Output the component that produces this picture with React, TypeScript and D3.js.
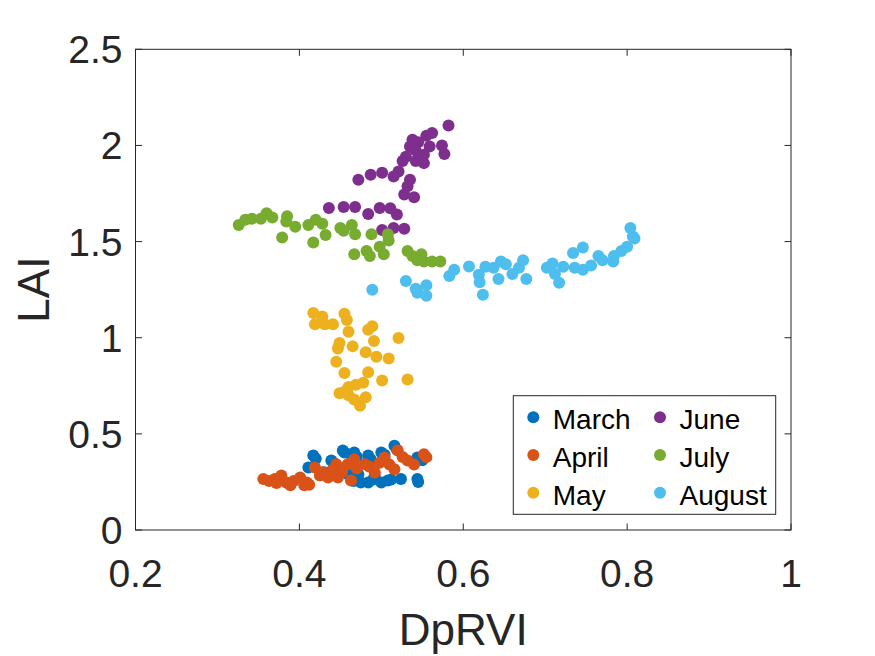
import React from "react";
import * as d3 from "d3";

type P = [number, number];

const months = ["March", "April", "May", "June", "July", "August"];
const colors = ["#0072BD", "#D95319", "#EDB120", "#7E2F8E", "#77AC30", "#4DBEEE"];
const xTicks = [0.2, 0.4, 0.6, 0.8, 1];
const yTicks = [0, 0.5, 1, 1.5, 2, 2.5];

const march: P[] = [
  [0.411, 0.325], [0.417, 0.387], [0.42, 0.37], [0.439, 0.361], [0.442, 0.348], [0.453, 0.413],
  [0.455, 0.403], [0.463, 0.392], [0.467, 0.403], [0.47, 0.381], [0.484, 0.387], [0.487, 0.368],
  [0.5, 0.403], [0.504, 0.392], [0.516, 0.438], [0.519, 0.418], [0.544, 0.377], [0.55, 0.363],
  [0.545, 0.25], [0.544, 0.265], [0.524, 0.265], [0.508, 0.258], [0.5, 0.247], [0.484, 0.247],
  [0.475, 0.247], [0.472, 0.29], [0.492, 0.283], [0.459, 0.29], [0.466, 0.255], [0.512, 0.262],
  [0.49, 0.262], [0.43, 0.3],
];
const april: P[] = [
  [0.356, 0.265], [0.363, 0.255], [0.37, 0.265], [0.372, 0.245], [0.378, 0.283], [0.384, 0.247],
  [0.389, 0.233], [0.393, 0.255], [0.401, 0.273], [0.406, 0.233], [0.409, 0.247], [0.412, 0.235],
  [0.419, 0.325], [0.425, 0.283], [0.428, 0.3], [0.435, 0.273], [0.44, 0.31], [0.445, 0.342],
  [0.447, 0.273], [0.452, 0.3], [0.459, 0.342], [0.463, 0.258], [0.467, 0.368], [0.47, 0.32],
  [0.48, 0.342], [0.485, 0.33], [0.492, 0.299], [0.498, 0.35], [0.504, 0.377], [0.51, 0.34],
  [0.516, 0.316], [0.52, 0.413], [0.526, 0.38], [0.532, 0.361], [0.54, 0.34], [0.552, 0.394],
  [0.555, 0.379],
];
const may: P[] = [
  [0.417, 1.129], [0.419, 1.07], [0.428, 1.11], [0.431, 1.07], [0.441, 1.07], [0.455, 1.125],
  [0.458, 1.092], [0.46, 1.031], [0.484, 1.042], [0.489, 1.06], [0.491, 0.983], [0.521, 0.999],
  [0.449, 0.973], [0.447, 0.944], [0.465, 0.955], [0.481, 0.925], [0.494, 0.901], [0.509, 0.892],
  [0.445, 0.875], [0.455, 0.816], [0.484, 0.82], [0.501, 0.777], [0.532, 0.783], [0.449, 0.711],
  [0.456, 0.722], [0.46, 0.701], [0.469, 0.755], [0.478, 0.766], [0.481, 0.69], [0.474, 0.646],
  [0.467, 0.679], [0.46, 0.744],
];
const june: P[] = [
  [0.582, 2.104], [0.562, 2.065], [0.555, 2.05], [0.538, 2.03], [0.535, 1.995], [0.545, 2.017],
  [0.559, 1.995], [0.574, 2.0], [0.577, 1.956], [0.542, 1.973], [0.552, 1.952], [0.526, 1.919],
  [0.53, 1.941], [0.542, 1.919], [0.552, 1.908], [0.521, 1.865], [0.535, 1.821], [0.532, 1.788],
  [0.528, 1.745], [0.54, 1.73], [0.472, 1.821], [0.487, 1.847], [0.501, 1.858], [0.515, 1.839],
  [0.436, 1.675], [0.454, 1.68], [0.468, 1.68], [0.484, 1.643], [0.498, 1.675], [0.511, 1.673],
  [0.519, 1.641], [0.501, 1.56], [0.515, 1.571], [0.528, 1.567],
];
const july: P[] = [
  [0.326, 1.586], [0.334, 1.614], [0.342, 1.619], [0.353, 1.619], [0.36, 1.647], [0.367, 1.625],
  [0.379, 1.521], [0.385, 1.632], [0.384, 1.604], [0.395, 1.577], [0.411, 1.586], [0.42, 1.614],
  [0.428, 1.593], [0.417, 1.495], [0.432, 1.534], [0.45, 1.571], [0.454, 1.556], [0.464, 1.586],
  [0.468, 1.538], [0.467, 1.434], [0.482, 1.451], [0.486, 1.425], [0.488, 1.538], [0.498, 1.473],
  [0.503, 1.434], [0.508, 1.538], [0.509, 1.506], [0.532, 1.451], [0.538, 1.425], [0.549, 1.434],
  [0.552, 1.397], [0.562, 1.397], [0.572, 1.397], [0.544, 1.403],
];
const august: P[] = [
  [0.489, 1.249], [0.53, 1.295], [0.542, 1.255], [0.544, 1.234], [0.555, 1.273], [0.555, 1.218],
  [0.583, 1.321], [0.589, 1.353], [0.607, 1.371], [0.619, 1.327], [0.62, 1.288], [0.624, 1.223],
  [0.627, 1.369], [0.637, 1.364], [0.643, 1.305], [0.646, 1.397], [0.652, 1.382], [0.66, 1.332],
  [0.668, 1.364], [0.673, 1.403], [0.677, 1.305], [0.702, 1.364], [0.709, 1.386], [0.712, 1.332],
  [0.717, 1.286], [0.722, 1.369], [0.734, 1.44], [0.736, 1.364], [0.746, 1.469], [0.746, 1.353],
  [0.756, 1.375], [0.765, 1.425], [0.77, 1.403], [0.783, 1.397], [0.784, 1.425], [0.793, 1.451],
  [0.8, 1.473], [0.804, 1.571], [0.807, 1.527], [0.809, 1.516],
];

const series: P[][] = [march, april, may, june, july, august];

const W = 875;
const H = 656;
const L = 135.5, R = 791, T = 49.3, B = 530;
const FONT = "'Liberation Sans', Arial, Helvetica, sans-serif";
const AX = "#262626";

export default function App() {
  const x = d3.scaleLinear().domain([0.2, 1]).range([L, R]);
  const y = d3.scaleLinear().domain([0, 2.5]).range([B, T]);
  const tick = 6.5;
  const legendRows = [417.3, 455, 492.7];
  const legendCols = [533.3, 660];
  return (
    <svg width={W} height={H} style={{ position: "absolute", left: 0, top: 0, background: "#fff" }}>
      <rect x={0} y={0} width={W} height={H} fill="#fff" />
      {series.map((pts, si) => (
        <g key={si} fill={colors[si]}>
          {pts.map((p, i) => (
            <circle key={i} cx={x(p[0])} cy={y(p[1])} r={6} />
          ))}
        </g>
      ))}
      <g stroke={AX} strokeWidth={1} fill="none">
        <rect x={L} y={T} width={R - L} height={B - T} />
        {xTicks.map((t) => (
          <g key={"x" + t}>
            <line x1={x(t)} x2={x(t)} y1={B} y2={B - tick} />
            <line x1={x(t)} x2={x(t)} y1={T} y2={T + tick} />
          </g>
        ))}
        {yTicks.map((t) => (
          <g key={"y" + t}>
            <line x1={L} x2={L + tick} y1={y(t)} y2={y(t)} />
            <line x1={R} x2={R - tick} y1={y(t)} y2={y(t)} />
          </g>
        ))}
      </g>
      <g fontFamily={FONT} fontSize={39} fill={AX}>
        {xTicks.map((t) => (
          <text key={"xl" + t} x={x(t)} y={586.5} textAnchor="middle">
            {d3.format("")(t)}
          </text>
        ))}
        {yTicks.map((t) => (
          <text key={"yl" + t} x={122.5} y={y(t) + 14} textAnchor="end">
            {d3.format("")(t)}
          </text>
        ))}
      </g>
      <text x={(L + R) / 2} y={645} textAnchor="middle" fontFamily={FONT} fontSize={44} fill={AX}>
        DpRVI
      </text>
      <text
        transform={`translate(49,${(T + B) / 2}) rotate(-90)`}
        textAnchor="middle"
        fontFamily={FONT}
        fontSize={44}
        fill={AX}
      >
        LAI
      </text>
      <rect x={513.3} y={395.7} width={262.4} height={118.6} fill="#fff" stroke={AX} strokeWidth={1} />
      {months.map((m, i) => {
        const col = Math.floor(i / 3);
        const row = i % 3;
        return (
          <g key={m}>
            <circle cx={legendCols[col]} cy={legendRows[row]} r={6} fill={colors[i]} />
            <text
              x={legendCols[col] + 19.5}
              y={legendRows[row] + 12}
              fontFamily={FONT}
              fontSize={28}
              fill="#000"
            >
              {m}
            </text>
          </g>
        );
      })}
    </svg>
  );
}
